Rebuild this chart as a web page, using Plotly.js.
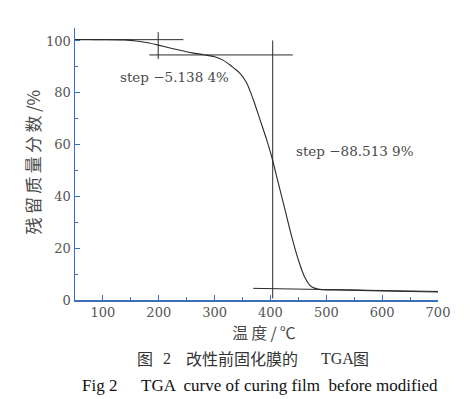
<!DOCTYPE html>
<html><head><meta charset="utf-8">
<script src="https://cdn.plot.ly/plotly-3.0.1.min.js"></script>
<style>body{margin:0;background:#fff}#c{width:475px;height:399px}</style>
</head><body><div id="c"></div>
<script>
const temperature = [50, 100, 138, 160, 180, 199, 220, 240, 260, 280, 300, 315, 327, 335, 345, 357, 369, 381, 393, 402, 414, 426, 438, 450, 461, 473, 488, 520, 560, 600, 650, 700];
const massPercent = [100.5, 100.5, 100.4, 100, 99.3, 98.4, 97.3, 96.3, 95.4, 94.7, 93.9, 92.6, 90.8, 89.4, 87.6, 84, 77.5, 69.8, 62, 55.5, 45.2, 34.9, 24.5, 15.5, 9, 5.2, 4.1, 3.9, 3.7, 3.5, 3.3, 3.1];
const tangentLines = [
  {x: [80, 244], y: [100.5, 100.5]},
  {x: [199, 199], y: [93, 103.4]},
  {x: [183, 440], y: [94.6, 94.6]},
  {x: [404, 404], y: [0.6, 100.2]},
  {x: [369, 700], y: [4.5, 3.3]}
];
const stepLabels = [
  {text: 'step −5.138 4%', x: 229, y: 86},
  {text: 'step −88.513 9%', x: 551, y: 57.4}
];
const xTicks = [100, 200, 300, 400, 500, 600, 700];
const yTicks = [0, 20, 40, 60, 80, 100];
const xTitle = '温\u2009度\u2009/\u2009℃';
const yTitle = '残\u2009留\u2009质\u2009量\u2009分\u2009数\u2009/%';
const captionZh = [
  {text: '图', px: 135},
  {text: '2', px: 161},
  {text: '改性前固化膜的', px: 184},
  {text: 'TGA', px: 319},
  {text: '图', px: 351}
];
const captionEn = [
  {text: 'Fig 2', px: 80},
  {text: 'TGA  curve of curing film  before modified', px: 139}
];

const serif = '"DejaVu Serif", serif';
const tserif = '"Liberation Serif", "Times New Roman", serif';
const cjk = '"Noto Sans CJK SC", sans-serif';
const L = 75, PW = 363, T = 28, PH = 272;
const px2x = p => (p - L) / PW;
const py2y = p => (T + PH - p) / PH;

const traces = [{x: temperature, y: massPercent, mode: 'lines', line: {color: '#2a2a2a', width: 1.1, shape: 'spline', smoothing: 0.8}, hoverinfo: 'none'}];
tangentLines.forEach(l => traces.push({x: l.x, y: l.y, mode: 'lines', line: {color: '#2a2a2a', width: 1}, hoverinfo: 'none'}));

const annotations = stepLabels.map(s => ({text: s.text, x: s.x, y: s.y, xref: 'x', yref: 'y', showarrow: false, font: {family: serif, size: 13.5, color: '#4a4a4a'}}));
annotations.push({text: xTitle, xref: 'paper', yref: 'paper', x: px2x(264), y: py2y(332), xanchor: 'center', yanchor: 'middle', showarrow: false, font: {family: cjk, size: 16, color: '#4a4a4a'}});
annotations.push({text: yTitle, xref: 'paper', yref: 'paper', x: px2x(31.5), y: py2y(162), xanchor: 'center', yanchor: 'middle', textangle: -90, showarrow: false, font: {family: cjk, size: 17, color: '#4a4a4a'}});
captionZh.forEach(c => annotations.push({text: c.text, xref: 'paper', yref: 'paper', x: px2x(c.px), y: py2y(358), xanchor: 'left', yanchor: 'middle', showarrow: false, font: {family: /[A-Z0-9]/.test(c.text) ? tserif : cjk, size: /[A-Z0-9]/.test(c.text) ? 16 : 16, color: '#333'}}));
captionEn.forEach(c => annotations.push({text: c.text, xref: 'paper', yref: 'paper', x: px2x(c.px), y: py2y(385), xanchor: 'left', yanchor: 'middle', showarrow: false, font: {family: tserif, size: 17, color: '#111'}}));

const axisBase = {ticks: 'inside', ticklen: 5, tickcolor: '#3d6fb8', showline: true, linecolor: '#3d6fb8', linewidth: 1.5, showgrid: false, zeroline: false,
  tickfont: {family: serif, size: 13, color: '#555'}};
const layout = {
  width: 475, height: 399,
  margin: {l: L, r: 475 - L - PW, t: T, b: 399 - T - PH},
  paper_bgcolor: '#fff', plot_bgcolor: '#fff',
  showlegend: false,
  xaxis: Object.assign({}, axisBase, {range: [50, 700], tickvals: xTicks,
    minor: {dtick: 50, ticks: 'inside', ticklen: 3, tickcolor: '#3d6fb8', showgrid: false}}),
  yaxis: Object.assign({}, axisBase, {range: [0, 105], tickvals: yTicks,
    minor: {dtick: 10, ticks: 'inside', ticklen: 3, tickcolor: '#3d6fb8', showgrid: false}}),
  annotations: annotations
};
Plotly.newPlot('c', traces, layout, {staticPlot: true, displayModeBar: false});
</script></body></html>
